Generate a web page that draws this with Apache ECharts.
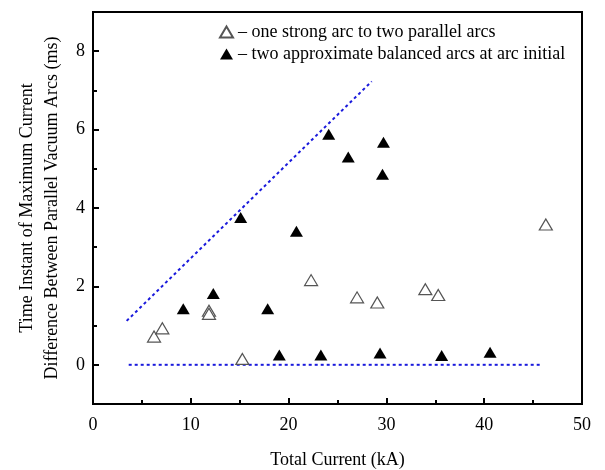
<!DOCTYPE html>
<html><head><meta charset="utf-8">
<script src="https://cdn.jsdelivr.net/npm/echarts@6/dist/echarts.min.js"></script>
<style>html,body{margin:0;padding:0;background:#fff}#c{width:605px;height:470px}</style>
</head><body><div id="c"></div>
<script>
const openX = [6.24, 7.09, 11.86, 11.86, 15.27, 22.3, 27.0, 29.07, 33.98, 35.3, 46.3];
const openY = [0.72, 0.93, 1.38, 1.30, 0.15, 2.16, 1.72, 1.59, 1.93, 1.78, 3.58];
const filledX = [9.23, 12.3, 15.1, 17.86, 19.05, 20.8, 23.3, 24.1, 26.1, 29.35, 29.6, 29.7, 35.65, 40.6];
const filledY = [1.43, 1.82, 3.76, 1.43, 0.25, 3.41, 0.25, 5.88, 5.30, 0.30, 4.86, 5.68, 0.24, 0.32];
const upperLineX = [3.44, 28.5];
const upperLineY = [1.12, 7.23];
const zeroLineX = [3.65, 45.9];
const zeroLineY = [0, 0];
const yMajorTicks = [0, 2, 4, 6, 8];
const yMinorTicks = [1, 3, 5, 7];
const seriesNames = ['one strong arc to two parallel arcs', 'two approximate balanced arcs at arc initial'];

const zip = (a, b) => a.map((v, i) => [v, b[i]]);
const font = 'Liberation Serif, Times New Roman, serif';
const chart = echarts.init(document.getElementById('c'));
const baseY = {
  type: 'value', min: -1, max: 9, position: 'left',
  axisLine: { show: true, onZero: false, lineStyle: { color: '#000', width: 2 } },
  splitLine: { show: false }
};
chart.setOption({
  animation: false,
  grid: { left: 93, right: 23, top: 12, bottom: 66, containLabel: false, outerBoundsMode: 'none',
    show: true, borderColor: '#000', borderWidth: 2, backgroundColor: 'transparent' },
  legend: {
    orient: 'vertical', left: 214, top: 18, itemGap: 4, itemWidth: 13, itemHeight: 11,
    formatter: n => '\u2013 ' + n,
    textStyle: { fontFamily: font, fontSize: 18, color: '#000' },
    data: seriesNames.map(n => ({ name: n, icon: 'triangle' }))
  },
  xAxis: {
    type: 'value', min: 0, max: 50, interval: 10,
    name: 'Total Current (kA)', nameLocation: 'middle', nameGap: 47,
    nameTextStyle: { fontFamily: font, fontSize: 18, color: '#000' },
    axisLine: { show: true, onZero: false, lineStyle: { color: '#000', width: 2 } },
    axisTick: { show: true, inside: true, length: 6, lineStyle: { color: '#000', width: 2 } },
    minorTick: { show: true, splitNumber: 2, length: 4, lineStyle: { color: '#000', width: 2 } },
    axisLabel: { fontFamily: font, fontSize: 18, color: '#000', margin: 12 },
    splitLine: { show: false }
  },
  yAxis: [
    Object.assign({}, baseY, {
      name: 'Time Instant of Maximum Current\nDifference Between Parallel Vacuum Arcs (ms)',
      nameLocation: 'middle', nameGap: 28, nameRotate: 90,
      nameTextStyle: { fontFamily: font, fontSize: 18, color: '#000', lineHeight: 25 },
      axisTick: { show: true, inside: true, length: 6, customValues: yMajorTicks, lineStyle: { color: '#000', width: 2 } },
      axisLabel: { fontFamily: font, fontSize: 18, color: '#000', margin: 8, customValues: yMajorTicks }
    }),
    Object.assign({}, baseY, {
      axisTick: { show: true, inside: true, length: 4, customValues: yMinorTicks, lineStyle: { color: '#000', width: 2 } },
      axisLabel: { show: false, customValues: yMinorTicks }
    })
  ],
  series: [
    {
      name: seriesNames[0], type: 'scatter', symbol: 'triangle', symbolSize: [13, 11],
      itemStyle: { color: '#fff', borderColor: '#555', borderWidth: 1.2, opacity: 1 },
      data: zip(openX, openY), z: 5
    },
    {
      name: seriesNames[1], type: 'scatter', symbol: 'triangle', symbolSize: [13, 11],
      itemStyle: { color: '#000', opacity: 1 },
      data: zip(filledX, filledY), z: 5
    },
    {
      type: 'line', data: zip(upperLineX, upperLineY), symbol: 'none', silent: true,
      lineStyle: { color: '#1a1adc', width: 2, type: [3, 3] }
    },
    {
      type: 'line', data: zip(zeroLineX, zeroLineY), symbol: 'none', silent: true,
      lineStyle: { color: '#1a1adc', width: 2, type: [3, 3] }
    }
  ]
});
</script></body></html>
